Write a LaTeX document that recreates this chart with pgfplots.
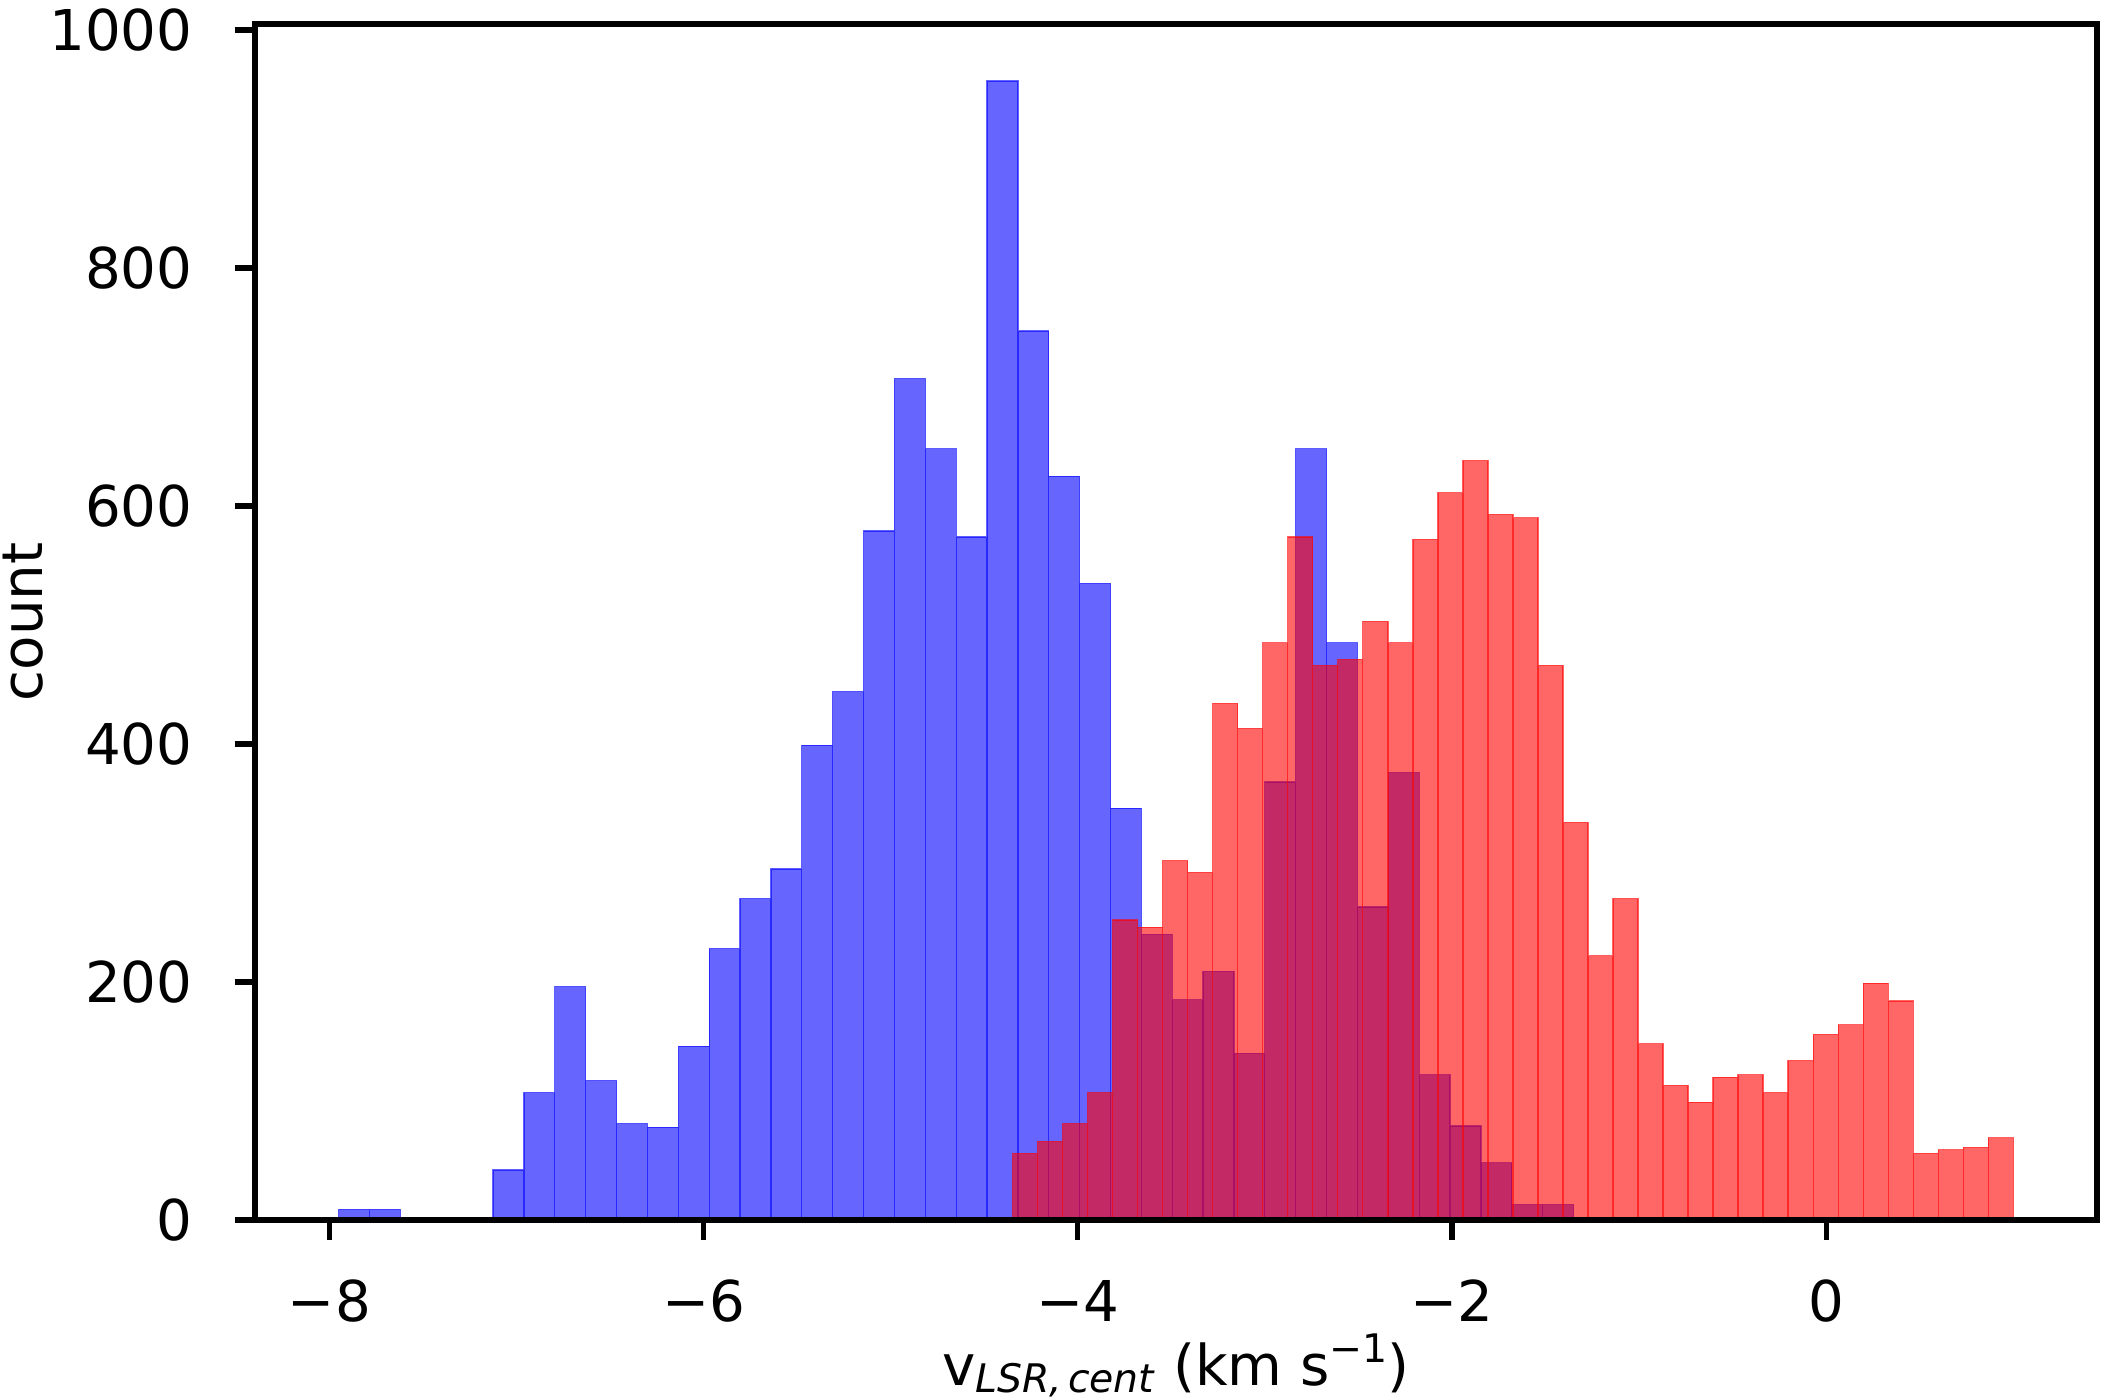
\documentclass[border=0pt]{standalone}
\usepackage{fontspec}
\setmainfont{DejaVu Sans}
\usepackage{pgfplots}
\pgfplotsset{compat=1.18}
\newcommand\fsz{\fontsize{13.5}{16}\selectfont}
\newcommand\fss{\fontsize{9.45}{11}\selectfont}

\pgfplotstableread{
x y
-7.950 9
-7.785 9
-7.620 0
-7.455 0
-7.290 2
-7.125 42
-6.960 107
-6.795 196
-6.630 117
-6.465 81
-6.300 78
-6.135 146
-5.970 228
-5.805 270
-5.640 295
-5.475 399
-5.310 444
-5.145 579
-4.980 707
-4.815 648
-4.650 574
-4.485 957
-4.320 747
-4.155 625
-3.990 535
-3.825 346
-3.660 240
-3.495 185
-3.330 209
-3.165 140
-3.000 368
-2.835 648
-2.670 485
-2.505 263
-2.340 376
-2.175 122
-2.010 79
-1.845 48
-1.680 13
-1.515 13
-1.350 13
}\bluedata

\pgfplotstableread{
x y
-4.3480 56
-4.2143 66
-4.0806 81
-3.9469 107
-3.8132 252
-3.6795 246
-3.5458 302
-3.4121 292
-3.2784 434
-3.1447 413
-3.0110 485
-2.8773 574
-2.7436 466
-2.6099 471
-2.4762 503
-2.3425 485
-2.2088 572
-2.0751 611
-1.9414 638
-1.8077 593
-1.6740 590
-1.5403 466
-1.4066 334
-1.2729 222
-1.1392 270
-1.0055 148
-0.8718 113
-0.7381 99
-0.6044 120
-0.4707 122
-0.3370 107
-0.2033 134
-0.0696 156
0.0641 164
0.1978 199
0.3315 184
0.4652 56
0.5989 59
0.7326 61
0.8663 69
1.0000 69
}\reddata

\begin{document}
\begin{tikzpicture}
\begin{axis}[
  at={(0,0)}, anchor=south west,
  scale only axis, width=442.08pt, height=287.04pt,
  xmin=-8.3975, xmax=1.4475, ymin=0, ymax=1005,
  axis on top,
  axis line style={line width=1.44pt, black},
  tick pos=left, tick align=outside,
  major tick length=4.7pt,
  every tick/.style={black, line width=1.25pt},
  xtick={-8,-6,-4,-2,0}, xticklabels={−8,−6,−4,−2,0},
  ytick={0,200,400,600,800,1000},
  /pgf/number format/assume math mode=true,
  /pgf/number format/1000 sep={},
  every x tick label/.style={font=\fsz, anchor=base, inner sep=0pt, yshift=-19.68pt},
  every y tick label/.style={font=\fsz, anchor=east, inner sep=0pt, xshift=-10.08pt},
  every axis x label/.style={at={(axis description cs:0.5,0)}, anchor=base, yshift=-39.84pt, font=\fsz},
  every axis y label/.style={at={(axis description cs:0,0.5)}, xshift=-50.88pt, rotate=90, anchor=base, font=\fsz},
  xlabel={v{\fss\raisebox{-1.5pt}{\textit{LSR,\hspace{0.15em}cent}}} (km s\raisebox{5.6pt}{\fss −1})},
  ylabel={count},
]
\addplot[ybar interval, fill=blue, draw=blue, fill opacity=0.6, draw opacity=0.6, line width=0.3pt] table[x=x, y=y] {\bluedata};
\addplot[ybar interval, fill=red, draw=red, fill opacity=0.6, draw opacity=0.6, line width=0.3pt] table[x=x, y=y] {\reddata};
\end{axis}
\pgfresetboundingbox
\path (-61.2pt,-43.2pt) rectangle (448.56pt,292.8pt);
\end{tikzpicture}
\end{document}
